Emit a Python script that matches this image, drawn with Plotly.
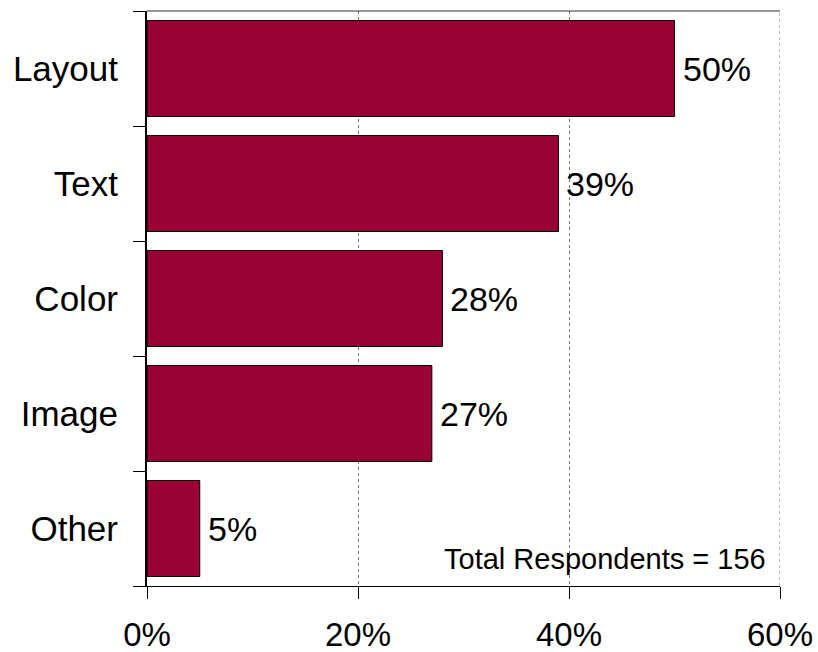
import plotly.graph_objects as go

categories = ["Layout", "Text", "Color", "Image", "Other"]
shares = [50, 39, 28, 27, 5]
x_ticks = [0, 20, 40, 60]
x_tick_labels = ["0%", "20%", "40%", "60%"]
respondents = 156

FONT = "Liberation Sans, Arial, sans-serif"
BIG = 35

fig = go.Figure(
    go.Bar(
        y=categories,
        x=shares,
        orientation="h",
        width=0.835,
        marker=dict(color="#990033", line=dict(color="#000000", width=1)),
    )
)

# value labels placed just right of each bar end
value_labels = [
    dict(
        x=v, y=c, xref="x", yref="y",
        text=f"{v}%",
        xanchor="left", yanchor="middle",
        xshift=6,
        showarrow=False,
        font=dict(family=FONT, size=34, color="#000000"),
    )
    for c, v in zip(categories, shares)
]

fig.update_layout(
    width=818,
    height=652,
    margin=dict(l=147, r=38, t=11, b=66),
    paper_bgcolor="white",
    plot_bgcolor="white",
    showlegend=False,
    font=dict(family=FONT, color="#000000"),
    xaxis=dict(
        range=[0, 60],
        tickvals=x_ticks,
        ticktext=x_tick_labels,
        tickfont=dict(size=33),
        ticks="outside",
        ticklen=12,
        tickcolor="#000000",
        tickwidth=1,
        showline=True,
        linecolor="#000000",
        linewidth=1,
        showgrid=True,
        gridcolor="#777777",
        griddash="dot",
        gridwidth=1,
        zeroline=False,
        ticklabelstandoff=7,
        automargin=False,
    ),
    yaxis=dict(
        categoryorder="array",
        categoryarray=categories[::-1],
        tickfont=dict(size=BIG),
        ticks="outside",
        tickson="boundaries",
        ticklen=12,
        tickcolor="#000000",
        tickwidth=1,
        showline=True,
        linecolor="#000000",
        linewidth=2,
        showgrid=False,
        ticklabelstandoff=20,
        automargin=False,
    ),
    shapes=[
        # top frame line
        dict(type="line", xref="paper", yref="paper", x0=0, x1=1, y0=1, y1=1,
             line=dict(color="#333333", width=1)),
        # dotted grid line at the right end of the range
        dict(type="line", xref="x", yref="paper", x0=60, x1=60, y0=0, y1=1,
             line=dict(color="#777777", width=1, dash="dot")),
    ],
    annotations=value_labels + [
        dict(
            text=f"Total Respondents = {respondents}",
            xref="paper", yref="paper",
            x=0.981, y=0.047,
            xanchor="right", yanchor="middle",
            showarrow=False,
            font=dict(family=FONT, size=29, color="#000000"),
        )
    ],
)

fig.write_html("out.html")
